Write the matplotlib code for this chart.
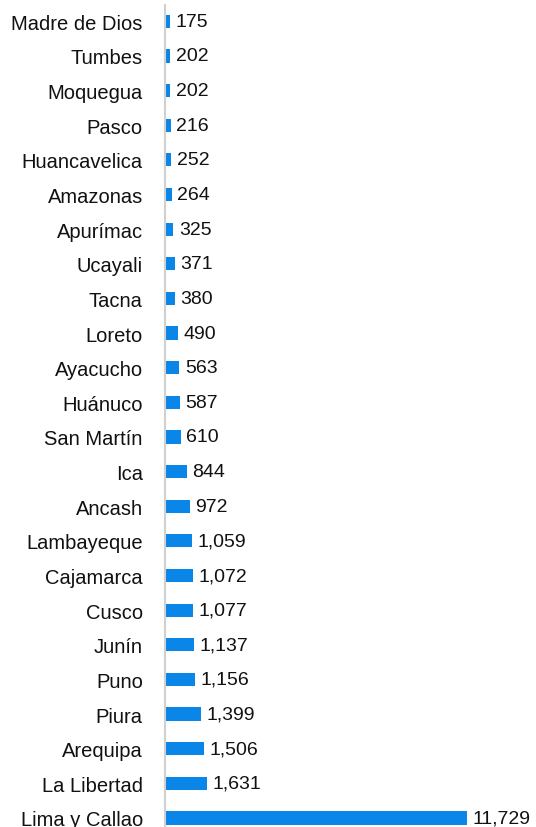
import matplotlib.pyplot as plt

regiones = ['Madre de Dios', 'Tumbes', 'Moquegua', 'Pasco', 'Huancavelica',
            'Amazonas', 'Apurímac', 'Ucayali', 'Tacna', 'Loreto', 'Ayacucho',
            'Huánuco', 'San Martín', 'Ica', 'Ancash', 'Lambayeque', 'Cajamarca',
            'Cusco', 'Junín', 'Puno', 'Piura', 'Arequipa', 'La Libertad',
            'Lima y Callao']
valores = [175, 202, 202, 216, 252, 264, 325, 371, 380, 490, 563, 587, 610,
           844, 972, 1059, 1072, 1077, 1137, 1156, 1399, 1506, 1631, 11729]

plt.rcParams['font.family'] = ['Liberation Sans', 'DejaVu Sans']

fig = plt.figure(figsize=(5.36, 8.28), dpi=100)
ax = fig.add_axes([165 / 536, 0, 371 / 536, 822 / 828])

pos = list(range(len(regiones)))
ax.barh(pos, valores, height=0.38, color='#0a86e8')

for y, v in zip(pos, valores):
    ax.annotate('{:,}'.format(v), (v, y), xytext=(4, 0), textcoords='offset points',
                ha='left', va='center', fontsize=14, color='#111111')

ax.set_xlim(0, 14410)
ax.set_ylim(23.26, -0.47)
ax.set_yticks(pos)
ax.set_yticklabels(regiones, fontsize=14.5, color='#111111')
ax.tick_params(axis='y', length=0, pad=16)
ax.set_xticks([])

for s in ['top', 'right', 'bottom']:
    ax.spines[s].set_visible(False)
ax.spines['left'].set_color('#d0d0d0')
ax.spines['left'].set_linewidth(1.5)

fig.savefig('out.png', dpi=100)
